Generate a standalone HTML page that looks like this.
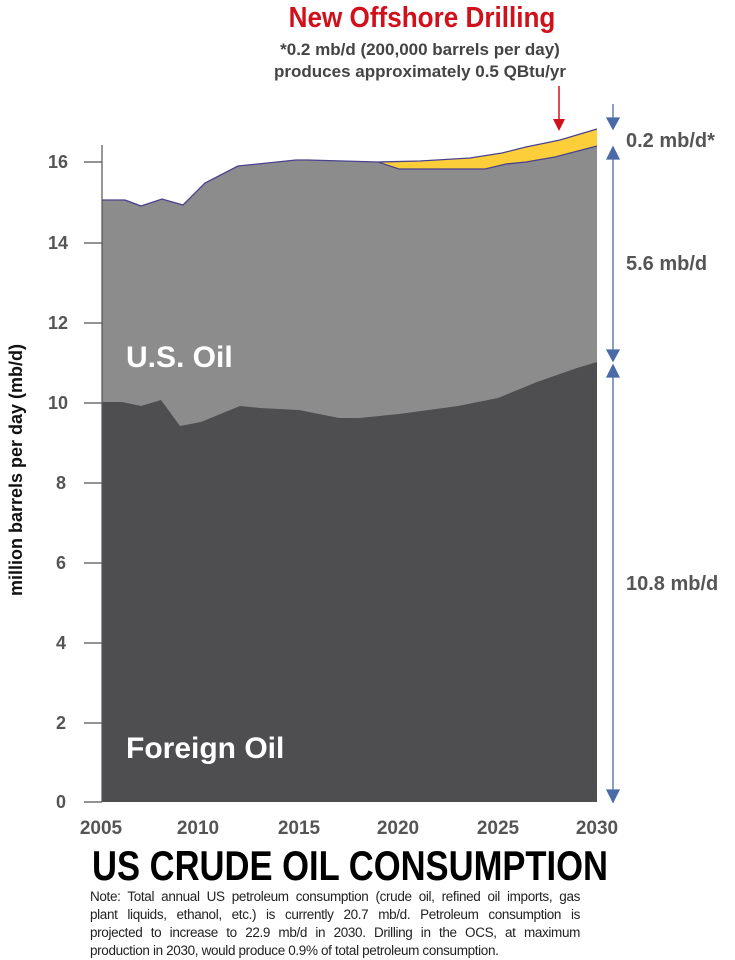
<!DOCTYPE html>
<html><head><meta charset="utf-8"><style>
body{margin:0;background:#fff;width:735px;height:959px;overflow:hidden;font-family:"Liberation Sans",sans-serif}
.note{position:absolute;left:90px;top:888px;width:490px;font-size:13.5px;line-height:18px;color:#222}
.note div{white-space:nowrap;text-align:justify;text-align-last:justify;letter-spacing:-0.35px;word-spacing:0}
.note div.l{text-align-last:left}
</style></head><body>
<svg width="735" height="959" style="position:absolute;left:0;top:0" font-family="Liberation Sans, sans-serif">
<text x="422" y="27" text-anchor="middle" font-size="29" font-weight="bold" fill="#d0101a" transform="translate(422,0) scale(0.9,1) translate(-422,0)">New Offshore Drilling</text>
<text x="420" y="55" text-anchor="middle" font-size="17" font-weight="bold" fill="#444">*0.2 mb/d (200,000 barrels per day)</text>
<text x="420" y="77" text-anchor="middle" font-size="17" font-weight="bold" fill="#444">produces approximately 0.5 QBtu/yr</text>
<path d="M102,802 L102,200 L125,200 L141,206 L162,199 L183,205 L205,183 L238,166 L296,160 L308,160 L378,162 L399,169 L485,169 L506,164 L526,162 L555,157 L597,146 L597,802 Z" fill="#8c8c8c"/>
<path d="M378,162 L399,169 L485,169 L506,164 L526,162 L555,157 L597,146 L597,129 L560,140 L526,147 L502,153 L470,158 L420,161 Z" fill="#fccf3a"/>
<path d="M102,200 L125,200 L141,206 L162,199 L183,205 L205,183 L238,166 L296,160 L308,160 L378,162 L420,161 L470,158 L502,153 L526,147 L560,140 L597,129" fill="none" stroke="#4a4290" stroke-width="1.3"/>
<path d="M378,162 L399,169 L485,169 L506,164 L526,162 L555,157 L597,146" fill="none" stroke="#4a4290" stroke-width="1.3"/>
<path d="M102,802 L102,402 L122,402 L141,406 L161,400 L180,426 L201,422 L240,406 L260,408 L299,410 L319,414 L339,418 L359,418 L399,414 L458,406 L498,398 L537,382 L577,368 L597,362 L597,802 Z" fill="#4e4e50"/>
<line x1="102" y1="145" x2="102" y2="802" stroke="#555" stroke-width="1.2"/>
<g stroke="#555" stroke-width="1.2">
<line x1="84" y1="802" x2="102" y2="802"/><line x1="84" y1="723" x2="102" y2="723"/><line x1="84" y1="643" x2="102" y2="643"/><line x1="84" y1="563" x2="102" y2="563"/><line x1="84" y1="483" x2="102" y2="483"/><line x1="84" y1="403" x2="102" y2="403"/><line x1="84" y1="323" x2="102" y2="323"/><line x1="84" y1="243" x2="102" y2="243"/><line x1="84" y1="162" x2="102" y2="162"/>
</g>
<g font-size="18" font-weight="bold" fill="#555" text-anchor="end">
<text x="66" y="808">0</text><text x="66" y="729">2</text><text x="66" y="649">4</text><text x="66" y="569">6</text><text x="66" y="489">8</text><text x="68" y="409">10</text><text x="68" y="329">12</text><text x="68" y="249">14</text><text x="68" y="168">16</text>
</g>
<g font-size="19" font-weight="bold" fill="#555" text-anchor="middle">
<text x="101" y="834">2005</text><text x="198" y="834">2010</text><text x="299" y="834">2015</text><text x="398" y="834">2020</text><text x="498" y="834">2025</text><text x="597" y="834">2030</text>
</g>
<text transform="translate(22,470) rotate(-90)" text-anchor="middle" font-size="18" font-weight="bold" fill="#111">million barrels per day (mb/d)</text>
<text x="126" y="367" font-size="30" font-weight="bold" fill="#fff">U.S. Oil</text>
<text x="126" y="758" font-size="30" font-weight="bold" fill="#fff">Foreign Oil</text>
<line x1="559" y1="86" x2="559" y2="120" stroke="#d0101a" stroke-width="1.5"/>
<path d="M553,119 L565,119 L559,131 Z" fill="#d0101a"/>
<g stroke="#4a6aa8" stroke-width="1.3" fill="#4a6aa8">
<line x1="613" y1="104" x2="613" y2="120"/><path d="M607,118 L619,118 L613,129 Z"/>
<path d="M607,159 L619,159 L613,147 Z"/><line x1="613" y1="158" x2="613" y2="352"/><path d="M607,350 L619,350 L613,361 Z"/>
<path d="M607,377 L619,377 L613,365 Z"/><line x1="613" y1="376" x2="613" y2="792"/><path d="M607,790 L619,790 L613,802 Z"/>
</g>
<g font-size="20" font-weight="bold" fill="#555">
<text x="626" y="147">0.2 mb/d*</text><text x="626" y="270">5.6 mb/d</text><text x="626" y="590">10.8 mb/d</text>
</g>
<text x="350" y="880" text-anchor="middle" font-size="42" font-weight="bold" fill="#000" textLength="516" lengthAdjust="spacingAndGlyphs">US CRUDE OIL CONSUMPTION</text>
</svg>
<div class="note">
<div>Note: Total annual US petroleum consumption (crude oil, refined oil imports, gas</div>
<div>plant liquids, ethanol, etc.) is currently 20.7 mb/d. Petroleum consumption is</div>
<div>projected to increase to 22.9 mb/d in 2030. Drilling in the OCS, at maximum</div>
<div class="l">production in 2030, would produce 0.9% of total petroleum consumption.</div>
</div>
</body></html>
